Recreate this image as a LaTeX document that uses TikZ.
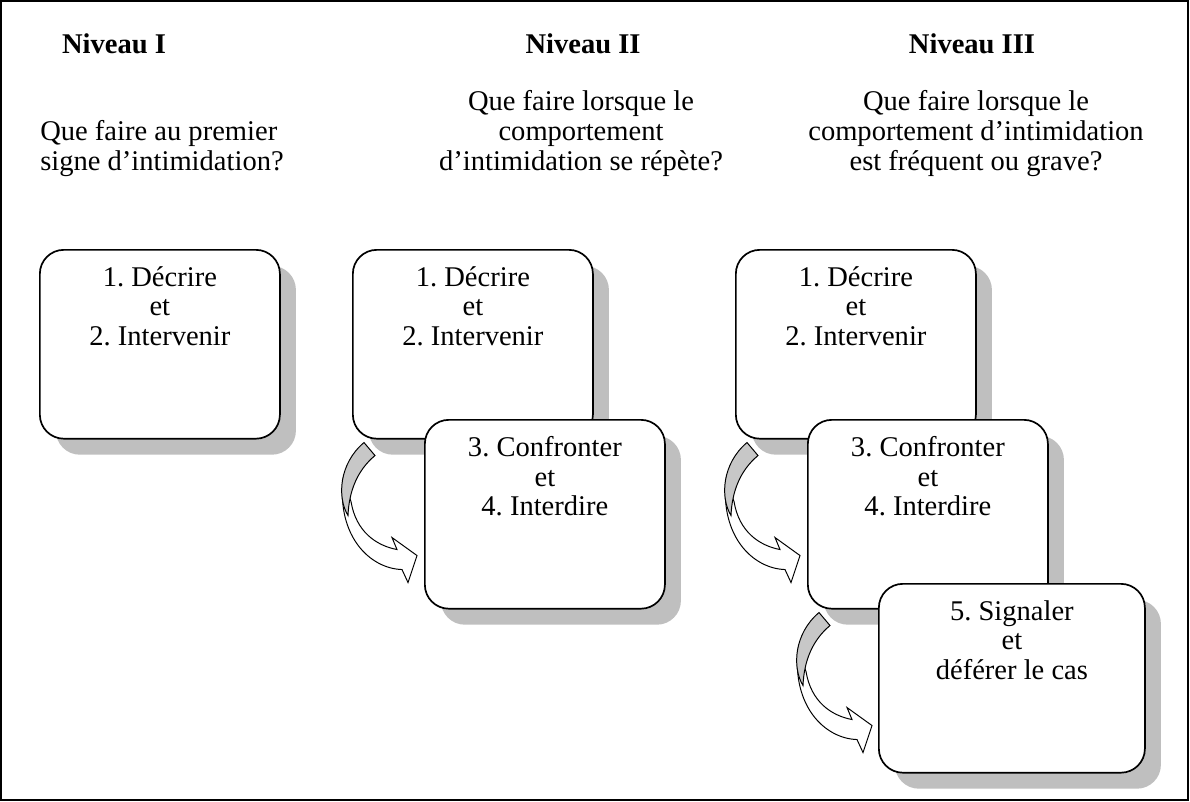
\documentclass[tikz,border=0pt]{standalone}
\usepackage{fontspec}
\setmainfont{Liberation Serif}
\usetikzlibrary{positioning,shadows}
\frenchspacing

\tikzset{
  stepbox/.style={draw, line width=1.2pt, fill=white, rounded corners=0.6cm,
    minimum width=6cm, minimum height=4.72cm, anchor=north west,
    drop shadow={shadow xshift=0.4cm, shadow yshift=-0.4cm, fill=black!25, opacity=1}},
  steptext/.style={align=center, inner sep=0pt, font=\fontsize{20.3}{20.8}\selectfont},
  question/.style={inner sep=0pt, font=\fontsize{20.3}{21.3}\selectfont},
  level/.style={inner sep=0pt, anchor=north, font=\fontsize{20.3}{21.3}\selectfont\bfseries},
  curvearrow/.pic={
    \draw[line width=0.7pt, fill=white] (-9,40) .. controls (-15,97) and (18,129) .. (50,130)
      -- (56,143) -- (65,116) -- (40,98) -- (45,110) .. controls (24,106) and (4,92) .. (-1,62) -- cycle;
    \draw[line width=0.7pt, fill=black!22] (12,3) -- (23,16) .. controls (5,31) and (-3,52) .. (-4,76)
      .. controls (-15,58) and (-13,24) .. (12,3) -- cycle;
  }
}

\begin{document}
\begin{tikzpicture}[x=0.025cm, y=-0.025cm]
\useasboundingbox (0,0) rectangle (1190,802);
\draw[line width=1.5pt] (1,1) rectangle (1188,800);

% titles and questions
\node[level] (n1) at (114,33) {Niveau I};
\node[level] (n2) at (583,33) {Niveau II};
\node[level] (n3) at (972,33) {Niveau III};

\node[question, align=left, anchor=north west] (q1) at (40,120) {Que faire au premier\\signe d’intimidation?};
\node[question, align=center, anchor=north] (q2) at (581,90) {Que faire lorsque le\\comportement\\d’intimidation se répète?};
\node[question, align=center, anchor=north] (q3) at (976,90) {Que faire lorsque le\\comportement d’intimidation\\est fréquent ou grave?};

% level I
\node[stepbox] (d1) at (39,249) {};
\node[steptext, below=0.44cm of d1.north] (t1) {1. Décrire\\et\\2. Intervenir};

% level II
\node[stepbox] (d2a) at (352,249) {};
\node[steptext, below=0.44cm of d2a.north] (t2a) {1. Décrire\\et\\2. Intervenir};
\node[stepbox] (d2b) at (424,419) {};
\node[steptext, below=0.44cm of d2b.north] (t2b) {3. Confronter\\et\\4. Interdire};
\pic at (d2a.south west) {curvearrow};

% level III
\node[stepbox] (d3a) at (735,249) {};
\node[steptext, below=0.44cm of d3a.north] (t3a) {1. Décrire\\et\\2. Intervenir};
\node[stepbox] (d3b) at (807,419) {};
\node[steptext, below=0.44cm of d3b.north] (t3b) {3. Confronter\\et\\4. Interdire};
\node[stepbox, minimum width=6.65cm] (d3c) at (878,583) {};
\node[steptext, below=0.44cm of d3c.north] (t3c) {5. Signaler\\et\\déférer le cas};
\pic at (d3a.south west) {curvearrow};
\pic at (d3b.south west) {curvearrow};
\end{tikzpicture}
\end{document}
